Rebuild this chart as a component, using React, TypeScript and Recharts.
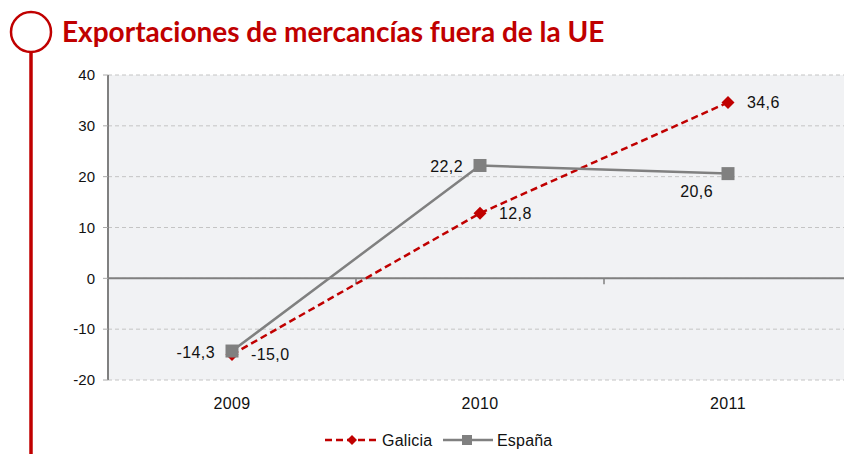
import React from 'react';
import { LineChart, Line, XAxis, YAxis, CartesianGrid, Legend, ReferenceLine, LabelList } from 'recharts';

const years = ['2009', '2010', '2011'];
const galicia = [-15.0, 12.8, 34.6];
const espana = [-14.3, 22.2, 20.6];
const yTicks = [-20, -10, 0, 10, 20, 30, 40];

const data = years.map((year, i) => ({ year, galicia: galicia[i], espana: espana[i] }));

const RED = '#c00000';
const GREY = '#808080';
const TEXT = '#111111';
const FONT = '"Liberation Sans", Arial, sans-serif';

const fmt = (v: number) => v.toFixed(1).replace('.', ',');

const diamond = (cx: number, cy: number, r: number) =>
  `M${cx},${cy - r}L${cx + r},${cy}L${cx},${cy + r}L${cx - r},${cy}Z`;

const DiamondDot = (p: any) => (
  <path key={`g${p.index}`} d={diamond(p.cx, p.cy, 6.5)} fill={RED} />
);

const SquareDot = (p: any) => (
  <rect key={`e${p.index}`} x={p.cx - 6.5} y={p.cy - 6.5} width={13} height={13} fill={GREY} />
);

const GaliciaLabel = (p: any) => (
  <text x={p.x + 19} y={p.y} dy="0.36em" textAnchor="start" fontSize={16} fill={TEXT}
    fontFamily={FONT} letterSpacing={0.4}>
    {fmt(p.value)}
  </text>
);

const EspanaLabel = (p: any) => {
  const below = p.index === 2;
  return (
    <text x={p.x - (below ? 15 : 17)} y={p.y + (below ? 18 : 1)} dy="0.36em" textAnchor="end"
      fontSize={16} fill={TEXT} fontFamily={FONT} letterSpacing={0.4}>
      {fmt(p.value)}
    </text>
  );
};

// zero line with small category separators
const ZeroLine = (p: any) => {
  const { x1, x2, y1 } = p;
  const step = (x2 - x1) / years.length;
  return (
    <g>
      <line x1={x1} x2={x2} y1={y1} y2={y1} stroke={GREY} strokeWidth={2} />
      {years.slice(1).map((_, i) => (
        <line key={i} x1={x1 + step * (i + 1)} x2={x1 + step * (i + 1)} y1={y1} y2={y1 + 6}
          stroke={GREY} strokeWidth={1.5} />
      ))}
    </g>
  );
};

const LegendBox = () => (
  <div style={{ display: 'flex', justifyContent: 'center', height: 34 }}>
    <svg width={240} height={34} style={{ marginLeft: -14 }}>
      <line x1={2} x2={56} y1={20} y2={20} stroke={RED} strokeWidth={2.5} strokeDasharray="7 4" />
      <path d={diamond(29, 20, 5)} fill={RED} />
      <text x={59} y={20} dy="0.36em" fontSize={16} fill={TEXT} fontFamily={FONT} letterSpacing={0.2}>Galicia</text>
      <line x1={120} x2={170} y1={20} y2={20} stroke={GREY} strokeWidth={2.5} />
      <rect x={139} y={15} width={10} height={10} fill={GREY} />
      <text x={174} y={20} dy="0.36em" fontSize={16} fill={TEXT} fontFamily={FONT} letterSpacing={0.2}>España</text>
    </svg>
  </div>
);

export default function App() {
  return (
    <div style={{ position: 'absolute', left: 0, top: 0, width: 844, height: 454, overflow: 'hidden', background: '#fff' }}>
      <svg width={844} height={454} style={{ position: 'absolute', left: 0, top: 0 }}>
        <line x1={31} x2={31} y1={52} y2={454} stroke={RED} strokeWidth={3.5} />
        <circle cx={31} cy={32} r={20} fill="#fff" stroke={RED} strokeWidth={2.5} />
        <text x={62} y={42} fontSize={28} fontWeight={700} fill={RED} fontFamily="Lato, 'Open Sans', sans-serif">
          Exportaciones de mercancías fuera de la UE
        </text>
      </svg>
      <div style={{ position: 'absolute', left: 0, top: 0 }}>
        <LineChart width={852} height={454} data={data} margin={{ top: 75, right: 0, left: 48, bottom: 0 }}>
          <CartesianGrid vertical={false} stroke="#c4c4c4" strokeDasharray="4 3" fill="#f1f2f4" />
          <XAxis dataKey="year" scale="band" axisLine={false} tickLine={false} height={40} tickMargin={12}
            tick={{ fontSize: 16, fill: TEXT, fontFamily: FONT, letterSpacing: 0.4 }} />
          <YAxis domain={[-20, 40]} ticks={yTicks} width={60} axisLine={{ stroke: GREY, strokeWidth: 2 }}
            tickLine={{ stroke: '#aaaaaa' }} tickSize={5} tickMargin={8}
            tick={{ fontSize: 15, fill: TEXT, fontFamily: FONT }} />
          <ReferenceLine y={0} shape={ZeroLine} />
          <Legend verticalAlign="bottom" height={34} content={LegendBox} />
          <Line dataKey="galicia" name="Galicia" stroke={RED} strokeWidth={2.5} strokeDasharray="7 4"
            dot={DiamondDot} isAnimationActive={false}>
            <LabelList dataKey="galicia" content={GaliciaLabel} />
          </Line>
          <Line dataKey="espana" name="España" stroke={GREY} strokeWidth={2.5}
            dot={SquareDot} isAnimationActive={false}>
            <LabelList dataKey="espana" content={EspanaLabel} />
          </Line>
        </LineChart>
      </div>
    </div>
  );
}
